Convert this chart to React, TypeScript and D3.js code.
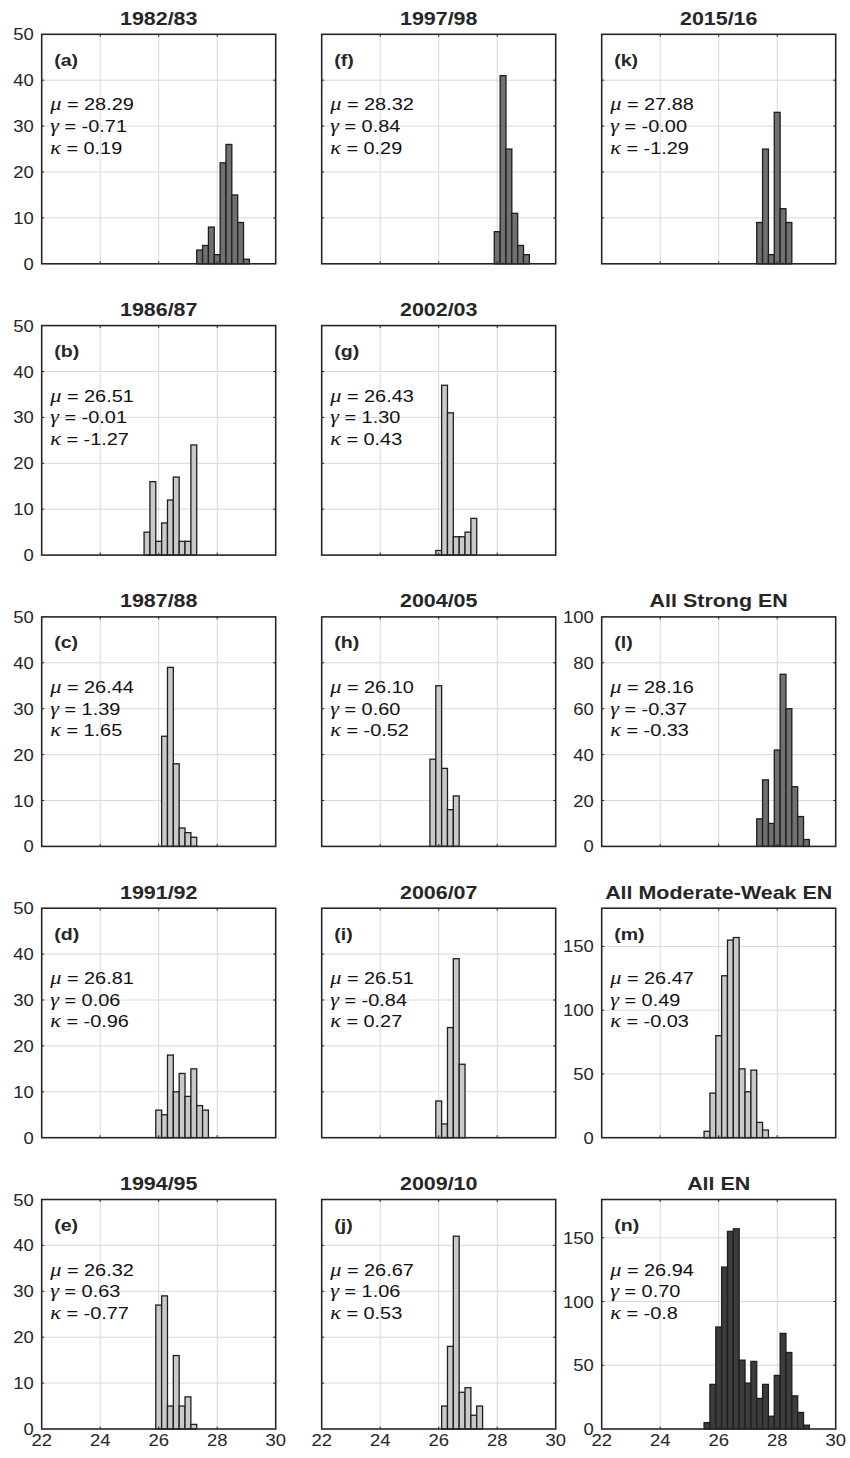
import React from "react";
import * as d3 from "d3";

// Histogram bin width (degC) and shared x axis
const BIN_WIDTH = 0.2;
const X_DOMAIN: [number, number] = [22, 30];
const X_TICKS = [22, 24, 26, 28, 30];

// Counts per 0.2 degC bin, with the left edge of the first bin
const edge8283 = 27.3;
const counts8283 = [3, 4, 8, 2, 22, 26, 15, 9, 1];
const edge9798 = 27.9;
const counts9798 = [7, 41, 25, 11, 4, 2];
const edge1516 = 27.3;
const counts1516 = [9, 25, 2, 33, 12, 9];
const edge8687 = 25.5;
const counts8687 = [5, 16, 3, 7, 12, 17, 3, 3, 24];
const edge0203 = 25.9;
const counts0203 = [1, 37, 31, 4, 4, 5, 8];
const edge8788 = 26.1;
const counts8788 = [24, 39, 18, 4, 3, 2];
const edge0405 = 25.7;
const counts0405 = [19, 35, 17, 8, 11];
const edgeStrong = 27.3;
const countsStrong = [12, 29, 10, 42, 75, 60, 26, 13, 3];
const edge9192 = 25.9;
const counts9192 = [6, 5, 18, 10, 14, 9, 15, 7, 6];
const edge0607 = 25.9;
const counts0607 = [8, 3, 24, 39, 16];
const edgeModWeak = 25.5;
const countsModWeak = [5, 35, 80, 127, 155, 157, 54, 36, 53, 12, 6];
const edge9495 = 25.9;
const counts9495 = [27, 29, 5, 16, 5, 7, 1];
const edge0910 = 26.1;
const counts0910 = [5, 18, 42, 8, 9, 3, 5];
const edgeAll = 25.5;
const countsAll = [5, 35, 80, 127, 155, 157, 54, 36, 53, 24, 35, 10, 42, 75, 60, 26, 13, 3];

// Mean, skewness and kurtosis labels
const stats8283 = ["28.29", "-0.71", "0.19"];
const stats9798 = ["28.32", "0.84", "0.29"];
const stats1516 = ["27.88", "-0.00", "-1.29"];
const stats8687 = ["26.51", "-0.01", "-1.27"];
const stats0203 = ["26.43", "1.30", "0.43"];
const stats8788 = ["26.44", "1.39", "1.65"];
const stats0405 = ["26.10", "0.60", "-0.52"];
const statsStrong = ["28.16", "-0.37", "-0.33"];
const stats9192 = ["26.81", "0.06", "-0.96"];
const stats0607 = ["26.51", "-0.84", "0.27"];
const statsModWeak = ["26.47", "0.49", "-0.03"];
const stats9495 = ["26.32", "0.63", "-0.77"];
const stats0910 = ["26.67", "1.06", "0.53"];
const statsAll = ["26.94", "0.70", "-0.8"];

// y axis settings
const yTicks50 = [0, 10, 20, 30, 40, 50];
const yTicks100 = [0, 20, 40, 60, 80, 100];
const yTicks180 = [0, 50, 100, 150];

const FILL_STRONG = "#707070";
const FILL_MOD = "#c9c9c9";
const FILL_ALL = "#3c3c3c";

type PanelSpec = {
  title: string;
  tag: string;
  row: number;
  col: number;
  edge: number;
  counts: number[];
  stats: string[];
  yMax: number;
  yTicks: number[];
  fill: string;
  yLabels: boolean;
  xLabels: boolean;
};

const panels: PanelSpec[] = [
  { title: "1982/83", tag: "(a)", row: 0, col: 0, edge: edge8283, counts: counts8283, stats: stats8283, yMax: 50, yTicks: yTicks50, fill: FILL_STRONG, yLabels: true, xLabels: false },
  { title: "1986/87", tag: "(b)", row: 1, col: 0, edge: edge8687, counts: counts8687, stats: stats8687, yMax: 50, yTicks: yTicks50, fill: FILL_MOD, yLabels: true, xLabels: false },
  { title: "1987/88", tag: "(c)", row: 2, col: 0, edge: edge8788, counts: counts8788, stats: stats8788, yMax: 50, yTicks: yTicks50, fill: FILL_MOD, yLabels: true, xLabels: false },
  { title: "1991/92", tag: "(d)", row: 3, col: 0, edge: edge9192, counts: counts9192, stats: stats9192, yMax: 50, yTicks: yTicks50, fill: FILL_MOD, yLabels: true, xLabels: false },
  { title: "1994/95", tag: "(e)", row: 4, col: 0, edge: edge9495, counts: counts9495, stats: stats9495, yMax: 50, yTicks: yTicks50, fill: FILL_MOD, yLabels: true, xLabels: true },
  { title: "1997/98", tag: "(f)", row: 0, col: 1, edge: edge9798, counts: counts9798, stats: stats9798, yMax: 50, yTicks: yTicks50, fill: FILL_STRONG, yLabels: false, xLabels: false },
  { title: "2002/03", tag: "(g)", row: 1, col: 1, edge: edge0203, counts: counts0203, stats: stats0203, yMax: 50, yTicks: yTicks50, fill: FILL_MOD, yLabels: false, xLabels: false },
  { title: "2004/05", tag: "(h)", row: 2, col: 1, edge: edge0405, counts: counts0405, stats: stats0405, yMax: 50, yTicks: yTicks50, fill: FILL_MOD, yLabels: false, xLabels: false },
  { title: "2006/07", tag: "(i)", row: 3, col: 1, edge: edge0607, counts: counts0607, stats: stats0607, yMax: 50, yTicks: yTicks50, fill: FILL_MOD, yLabels: false, xLabels: false },
  { title: "2009/10", tag: "(j)", row: 4, col: 1, edge: edge0910, counts: counts0910, stats: stats0910, yMax: 50, yTicks: yTicks50, fill: FILL_MOD, yLabels: false, xLabels: true },
  { title: "2015/16", tag: "(k)", row: 0, col: 2, edge: edge1516, counts: counts1516, stats: stats1516, yMax: 50, yTicks: yTicks50, fill: FILL_STRONG, yLabels: false, xLabels: false },
  { title: "All Strong EN", tag: "(l)", row: 2, col: 2, edge: edgeStrong, counts: countsStrong, stats: statsStrong, yMax: 100, yTicks: yTicks100, fill: FILL_STRONG, yLabels: true, xLabels: false },
  { title: "All Moderate-Weak EN", tag: "(m)", row: 3, col: 2, edge: edgeModWeak, counts: countsModWeak, stats: statsModWeak, yMax: 180, yTicks: yTicks180, fill: FILL_MOD, yLabels: true, xLabels: false },
  { title: "All EN", tag: "(n)", row: 4, col: 2, edge: edgeAll, counts: countsAll, stats: statsAll, yMax: 180, yTicks: yTicks180, fill: FILL_ALL, yLabels: true, xLabels: true },
];

// Grid geometry
const COL_X = [41.7, 321.7, 601.7];
const ROW_Y = [34.3, 325.6, 616.9, 908.2, 1199.5];
const PW = 234;
const PH = 229.5;
const SANS = "'Liberation Sans', Arial, Helvetica, sans-serif";
const INK = "#262626";

function SText(props: {
  x: number;
  y: number;
  size: number;
  stretch?: number;
  anchor?: "start" | "middle" | "end";
  weight?: string | number;
  children: React.ReactNode;
}) {
  const { x, y, size, stretch = 1.2, anchor = "start", weight = "normal", children } = props;
  return (
    <text
      transform={`translate(${x},${y}) scale(${stretch},1)`}
      textAnchor={anchor}
      fontSize={size}
      fontWeight={weight}
      fontFamily={SANS}
      fill={INK}
    >
      {children}
    </text>
  );
}

const GREEK = ["\u03bc", "\u03b3", "\u03ba"];

function Panel({ p }: { p: PanelSpec }) {
  const x0 = COL_X[p.col];
  const y0 = ROW_Y[p.row];
  const x = d3.scaleLinear().domain(X_DOMAIN).range([x0, x0 + PW]);
  const y = d3.scaleLinear().domain([0, p.yMax]).range([y0 + PH, y0]);
  const bins = p.counts.map((c, i) => ({
    lo: p.edge + i * BIN_WIDTH,
    hi: p.edge + (i + 1) * BIN_WIDTH,
    c,
  }));
  const tickLen = 2.5;
  const innerY = p.yTicks.filter((t) => t > 0 && t < p.yMax);
  return (
    <g>
      {/* grid */}
      {X_TICKS.slice(1, -1).map((t) => (
        <line key={"gx" + t} x1={x(t)} x2={x(t)} y1={y0} y2={y0 + PH} stroke="#dadada" strokeWidth={1} />
      ))}
      {innerY.map((t) => (
        <line key={"gy" + t} x1={x0} x2={x0 + PW} y1={y(t)} y2={y(t)} stroke="#dadada" strokeWidth={1} />
      ))}
      {/* bars */}
      {bins.map((b, i) => (
        <rect
          key={i}
          x={x(b.lo)}
          y={y(b.c)}
          width={x(b.hi) - x(b.lo)}
          height={y(0) - y(b.c)}
          fill={p.fill}
          stroke="#1e1e1e"
          strokeWidth={1.3}
        />
      ))}
      {/* inward ticks on all sides */}
      {X_TICKS.slice(1, -1).map((t) => (
        <g key={"tx" + t} stroke={INK} strokeWidth={1}>
          <line x1={x(t)} x2={x(t)} y1={y0 + PH} y2={y0 + PH - tickLen} />
          <line x1={x(t)} x2={x(t)} y1={y0} y2={y0 + tickLen} />
        </g>
      ))}
      {innerY.map((t) => (
        <g key={"ty" + t} stroke={INK} strokeWidth={1}>
          <line x1={x0} x2={x0 + tickLen} y1={y(t)} y2={y(t)} />
          <line x1={x0 + PW} x2={x0 + PW - tickLen} y1={y(t)} y2={y(t)} />
        </g>
      ))}
      {/* box */}
      <rect x={x0} y={y0} width={PW} height={PH} fill="none" stroke={INK} strokeWidth={1.6} />
      {/* tick labels */}
      {p.yLabels &&
        p.yTicks.map((t) => (
          <SText key={"ly" + t} x={x0 - 8} y={y(t) + 6} size={16.5} stretch={1.12} anchor="end">
            {t}
          </SText>
        ))}
      {p.xLabels &&
        X_TICKS.map((t) => (
          <SText key={"lx" + t} x={x(t)} y={y0 + PH + 16.5} size={16.5} stretch={1.12} anchor="middle">
            {t}
          </SText>
        ))}
      {/* title */}
      <SText x={x0 + PW / 2} y={y0 - 9.5} size={18.5} stretch={1.16} anchor="middle" weight="bold">
        {p.title}
      </SText>
      {/* panel tag */}
      <SText x={x0 + 12.5} y={y0 + 31.5} size={17} stretch={1.15} weight="bold">
        {p.tag}
      </SText>
      {/* statistics */}
      {p.stats.map((s, i) => (
        <text
          key={"st" + i}
          transform={`translate(${x0 + 8.5},${y0 + 76 + i * 21.6}) scale(1.17,1)`}
          fontSize={17}
          fontFamily={SANS}
          fill="#111"
        >
          <tspan fontFamily="'Liberation Serif', 'DejaVu Serif', serif" fontStyle="italic" fontSize={19}>
            {GREEK[i]}
          </tspan>
          {` = ${s}`}
        </text>
      ))}
    </g>
  );
}

export default function App() {
  return (
    <svg
      width={850}
      height={1458}
      viewBox="0 0 850 1458"
      style={{ position: "absolute", left: 0, top: 0, display: "block", background: "#fff" }}
    >
      <rect x={0} y={0} width={850} height={1458} fill="#fff" />
      {panels.map((p) => (
        <Panel key={p.tag} p={p} />
      ))}
    </svg>
  );
}
